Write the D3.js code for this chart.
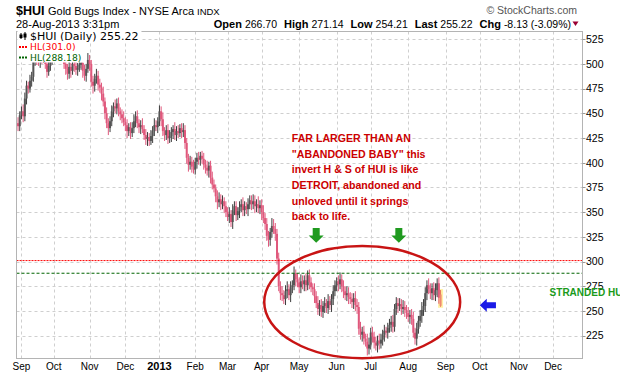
<!DOCTYPE html>
<html>
<head>
<meta charset="utf-8">
<script src="https://cdn.jsdelivr.net/npm/d3@7"></script>
<style>
  body { margin: 0; background: #fff; }
  svg { display: block; font-family: "Liberation Sans", Arial, sans-serif; }
</style>
</head>
<body>
<div id="chart"></div>
<script>
// ---- data ----
const monthLabels = ['Sep', 'Oct', 'Nov', 'Dec', '2013', 'Feb', 'Mar', 'Apr', 'May', 'Jun', 'Jul', 'Aug', 'Sep', 'Oct', 'Nov', 'Dec'];
const monthTradingDays = [19, 21, 21, 20, 21, 19, 20, 22, 22, 20, 22, 22, 20, 23, 20, 21];
const firstBarIndex = -3; // Aug 29 2012, three sessions before Sep 4

// daily closes, Aug 29 2012 .. Aug 28 2013
const closes = [
  440, 437, 448, 452, 447, 465, 478, 475, 483, 487,
  502, 512, 505, 503, 508, 506, 510, 500, 492, 498,
  505, 510, 512, 515, 518, 520, 512, 508, 500, 495,
  490, 497, 493, 500, 498, 494, 496, 499, 501, 493,
  488, 495, 504, 500, 482, 478, 485, 488, 479, 476,
  470, 462, 450, 440, 435, 442, 452, 457, 455, 460,
  452, 449, 445, 441, 438, 432, 436, 430, 435, 442,
  447, 440, 436, 438, 434, 428, 424, 426, 422, 427,
  432, 438, 436, 442, 452, 444, 432, 428, 433, 425,
  427, 431, 434, 428, 432, 430, 435, 431, 433, 420,
  405, 398, 401, 396, 393, 401, 405, 403, 407, 404,
  398, 395, 392, 397, 385, 378, 374, 366, 360, 363,
  358, 361, 356, 350, 345, 348, 340, 352, 356, 347,
  351, 355, 358, 352, 356, 353, 358, 362, 358, 361,
  356, 358, 354, 357, 350, 344, 338, 326, 322, 330,
  336, 333, 328, 303, 275, 268, 266, 262, 270, 272,
  266, 274, 276, 288, 282, 279, 274, 280, 277, 281,
  276, 286, 279, 274, 272, 265, 258, 252, 256, 249,
  255, 258, 253, 260, 256, 262, 270, 276, 280, 277,
  282, 275, 270, 266, 268, 264, 262, 259, 263, 256,
  254, 232, 226, 229, 222, 219, 212, 216, 228, 224,
  218, 215, 220, 217, 221, 226, 230, 228, 233, 236,
  239, 234, 252, 258, 255, 257, 252, 254, 251, 248,
  244, 246, 242, 228, 222, 232, 240, 245, 251, 255,
  268, 276, 272, 268, 273, 266, 271, 278, 263.35, 255.22
];
// how far each day's high / low reached beyond its candle body
const wickUp = [
  5, 6, 4, 5, 7, 6, 5, 4, 6, 5,  7, 6, 5, 8, 6, 5, 7, 4, 6, 5,
  6, 8, 5, 7, 5, 6, 6, 5, 8, 7,  5, 6, 4, 7, 5, 6, 5, 7, 6, 4,
  6, 5, 7, 5, 4, 6, 5, 7, 5, 6,  5, 7, 4, 6, 5, 5, 6, 4, 7, 5,
  6, 4, 5, 7, 5, 6, 4, 5, 6, 7,  5, 6, 4, 5, 7, 4, 6, 5, 4, 6,
  5, 7, 5, 4, 6, 5, 7, 4, 5, 6,  6, 5, 4, 7, 5, 6, 4, 5, 7, 5,
  5, 4, 6, 5, 7, 4, 5, 6, 4, 5,  6, 5, 7, 4, 5, 6, 5, 4, 6, 7,
  5, 6, 4, 5, 5, 7, 4, 6, 5, 5,  4, 6, 5, 7, 5, 4, 6, 5, 5, 7,
  6, 5, 8, 5, 6, 7, 5, 6, 5, 4,  8, 7, 6, 5, 6, 5, 7, 5, 6, 8,
  5, 6, 5, 7, 4, 6, 5, 7, 6, 5,  7, 5, 6, 5, 4, 6, 5, 7, 5, 6,
  5, 6, 4, 7, 5, 5, 6, 5, 4, 6,  7, 5, 6, 5, 7, 6, 5, 6, 5, 7,
  6, 5, 7, 5, 6, 5, 8, 7, 5, 6,  5, 6, 5, 7, 6, 5, 6, 4, 5, 6,
  6, 7, 5, 6, 5, 6, 5, 7, 6, 5,  6, 5, 6, 7, 5, 6, 5, 6, 8, 7,
  6, 5, 7, 6, 5, 6, 7, 5, 6, 0
];
const wickDown = [
  6, 5, 5, 4, 6, 5, 6, 5, 4, 6,  5, 4, 6, 5, 7, 6, 5, 5, 6, 4,
  5, 6, 7, 5, 6, 4, 5, 6, 5, 6,  6, 5, 7, 4, 6, 5, 6, 4, 5, 7,
  5, 6, 4, 7, 5, 8, 6, 5, 6, 5,  7, 5, 6, 5, 7, 4, 5, 6, 5, 6,
  5, 6, 5, 4, 6, 7, 5, 6, 4, 5,  6, 5, 6, 7, 4, 5, 6, 7, 5, 4,
  7, 5, 4, 6, 5, 7, 5, 6, 5, 6,  5, 6, 7, 5, 6, 5, 4, 6, 5, 6,
  6, 7, 5, 6, 4, 5, 7, 5, 6, 5,  5, 6, 5, 7, 6, 5, 4, 6, 7, 5,
  6, 5, 7, 5, 4, 6, 5, 7, 5, 6,  5, 7, 5, 6, 6, 5, 7, 5, 6, 5,
  7, 6, 5, 6, 8, 5, 6, 5, 7, 6,  6, 5, 7, 6, 5, 7, 6, 5, 6, 7,
  5, 7, 6, 5, 7, 5, 6, 6, 5, 7,  6, 5, 7, 5, 6, 7, 5, 6, 7, 5,
  6, 7, 5, 6, 5, 7, 6, 5, 6, 7,  5, 6, 7, 5, 6, 7, 5, 6, 7, 6,
  7, 6, 5, 7, 6, 5, 7, 6, 5, 6,  6, 5, 7, 6, 5, 6, 7, 5, 6, 5,
  7, 6, 5, 6, 7, 5, 6, 5, 7, 6,  5, 7, 6, 5, 6, 7, 5, 6, 7, 6,
  6, 7, 5, 6, 7, 5, 6, 7, 6, 0
];
const lastBar = { open: 266.70, high: 271.14, low: 254.21, close: 255.22, chg: -8.13, chgPct: -3.09 };
const quoteTime = '28-Aug-2013 3:31pm';

const yTicks = [225, 250, 275, 300, 325, 350, 375, 400, 425, 450, 475, 500, 525];
const hlLevels = [
  { value: 301.0, label: 'HL(301.0)', color: '#ff0000', dash: '2,1' },
  { value: 288.18, label: 'HL(288.18)', color: '#006400', dash: '3,2' }
];

// annotations (data space: trading-day index / index value)
const noteLines = [
  'FAR LARGER THAN AN',
  '"ABANDONED BABY" this',
  'invert H & S of HUI is like',
  'DETROIT, abandoned and',
  'unloved until it springs',
  'back to life.'
];
const noteAnchor = { index: 158.7, value: 421 };
const ellipseNote = { index: 200, value: 259, halfDays: 57.5, halfValue: 56.8 };
const greenArrowIndexes = [173, 221.5];
const greenArrowValues = { top: 334, tip: 319 };
const blueArrow = { tipIndex: 269, tailIndex: 278.5, value: 255.8 };
const strandedNote = { index: 310, value: 265.5, text: 'STRANDED HUI' };

// ---- setup ----
const W = 620, H = 376;
const plot = { left: 16.5, right: 582.5, top: 31.5, bottom: 358.5 };

const svg = d3.select('#chart').append('svg')
  .attr('width', W).attr('height', H);

const x = d3.scaleLinear().domain([-2.9, 329.3]).range([plot.left, plot.right]);
const y = d3.scaleLinear().domain([201.9, 532.8]).range([plot.bottom, plot.top]);

// ---- header ----
svg.append('text').attr('x', 16).attr('y', 15)
  .attr('font-size', 12.5).attr('font-weight', 'bold').text('$HUI');
svg.append('text').attr('x', 48).attr('y', 15)
  .attr('font-size', 11).text('Gold Bugs Index - NYSE Arca');
svg.append('text').attr('x', 197).attr('y', 15)
  .attr('font-size', 9.5).text('INDX');
svg.append('text').attr('x', 16).attr('y', 27.5)
  .attr('font-size', 11).text(quoteTime);
svg.append('text').attr('x', 577).attr('y', 14).attr('text-anchor', 'end')
  .attr('font-size', 10.5).attr('fill', '#555').text('\u00A9 StockCharts.com');

const quoteFields = [
  ['Open', lastBar.open.toFixed(2)],
  ['High', lastBar.high.toFixed(2)],
  ['Low', lastBar.low.toFixed(2)],
  ['Last', lastBar.close.toFixed(2)],
  ['Chg', `${lastBar.chg.toFixed(2)} (${lastBar.chgPct.toFixed(2)}%)`]
];
const quote = svg.append('text').attr('x', 571).attr('y', 27.5)
  .attr('text-anchor', 'end').attr('font-size', 11);
quoteFields.forEach(([label, val], i) => {
  quote.append('tspan').attr('dx', i ? 7 : 0).attr('font-weight', 'bold').text(label);
  quote.append('tspan').attr('dx', 3).attr('font-size', 10.5).text(val);
});
svg.append('path')
  .attr('d', 'M572.5,21.5 L578.5,21.5 L575.5,26 Z')
  .attr('fill', '#990033');

// ---- grid + frame ----
const monthStarts = d3.cumsum([0].concat(monthTradingDays.slice(0, -1)));

svg.append('g').selectAll('line').data(monthStarts).join('line')
  .attr('x1', d => Math.round(x(d)) + 0.5).attr('x2', d => Math.round(x(d)) + 0.5)
  .attr('y1', plot.top).attr('y2', plot.bottom)
  .attr('stroke', '#cfcfcf').attr('stroke-dasharray', '3,3');

svg.append('g').selectAll('line').data(yTicks).join('line')
  .attr('x1', plot.left).attr('x2', plot.right)
  .attr('y1', d => Math.round(y(d)) + 0.5).attr('y2', d => Math.round(y(d)) + 0.5)
  .attr('stroke', '#cfcfcf').attr('stroke-dasharray', '3,3');

// ---- candles ----
svg.append('clipPath').attr('id', 'plotClip').append('rect')
  .attr('x', plot.left).attr('y', plot.top)
  .attr('width', plot.right - plot.left).attr('height', plot.bottom - plot.top);

const bars = closes.map((c, i) => {
  const isLast = i === closes.length - 1;
  const prev = i > 0 ? closes[i - 1] : c;
  const open = isLast ? lastBar.open : prev;
  const high = isLast ? lastBar.high : Math.max(open, c) + wickUp[i];
  const low = isLast ? lastBar.low : Math.min(open, c) - wickDown[i];
  return { idx: firstBarIndex + i, open, high, low, close: c, up: c >= prev, isLast };
});

const candles = svg.append('g').attr('clip-path', 'url(#plotClip)');

// yellow highlight behind the latest bar
const lb = bars[bars.length - 1];
candles.append('rect')
  .attr('x', x(lb.idx) - 2.5).attr('width', 5)
  .attr('y', y(lb.high) - 1).attr('height', y(lb.low) - y(lb.high) + 2)
  .attr('fill', '#fff1a6');

candles.selectAll('line.wick').data(bars).join('line')
  .attr('class', 'wick')
  .attr('x1', d => x(d.idx)).attr('x2', d => x(d.idx))
  .attr('y1', d => y(d.high)).attr('y2', d => y(d.low))
  .attr('stroke', d => d.isLast ? '#e8735a' : d.up ? '#3c3c3c' : '#e0587c')
  .attr('stroke-width', 1);

candles.selectAll('rect.body').data(bars).join('rect')
  .attr('class', 'body')
  .attr('x', d => x(d.idx) - 1).attr('width', 2)
  .attr('y', d => y(Math.max(d.open, d.close)))
  .attr('height', d => Math.max(1.5, Math.abs(y(d.open) - y(d.close))))
  .attr('fill', d => d.isLast ? '#ef8a70' : d.up ? '#555' : '#e0587c');

// ---- HL levels ----
svg.append('g').selectAll('line').data(hlLevels).join('line')
  .attr('x1', plot.left).attr('x2', plot.right)
  .attr('y1', d => y(d.value)).attr('y2', d => y(d.value))
  .attr('stroke', d => d.color).attr('stroke-dasharray', d => d.dash);

// frame
svg.append('rect')
  .attr('x', plot.left).attr('y', plot.top)
  .attr('width', plot.right - plot.left).attr('height', plot.bottom - plot.top)
  .attr('fill', 'none').attr('stroke', '#b4b4b4');

// ---- axes labels ----
const yAxis = svg.append('g');
yAxis.selectAll('line').data(yTicks).join('line')
  .attr('x1', plot.right).attr('x2', plot.right + 3)
  .attr('y1', d => Math.round(y(d)) + 0.5).attr('y2', d => Math.round(y(d)) + 0.5)
  .attr('stroke', '#999');
yAxis.selectAll('text').data(yTicks).join('text')
  .attr('x', plot.right + 3.5).attr('y', d => y(d) + 3.8)
  .attr('font-size', 10.5).text(d => d);

svg.append('g').selectAll('text').data(monthLabels).join('text')
  .attr('x', (d, i) => x(monthStarts[i])).attr('y', 370)
  .attr('text-anchor', 'middle')
  .attr('font-size', d => d === '2013' ? 11 : 10)
  .attr('font-weight', d => d === '2013' ? 'bold' : 'normal')
  .text(d => d);

// ---- legend ----
const legend = svg.append('g').attr('font-family', '"DejaVu Sans", Verdana, sans-serif');
const legendRows = [
  { text: `$HUI (Daily) ${lastBar.close.toFixed(2)}`, color: '#000', yb: 39.5, size: 11 },
  { text: hlLevels[0].label, color: hlLevels[0].color, yb: 50, size: 9.2 },
  { text: hlLevels[1].label, color: hlLevels[1].color, yb: 60.5, size: 9.2 }
];
legendRows.forEach((r, i) => {
  const bg = legend.append('rect').attr('fill', '#fff');
  const t = legend.append('text').attr('x', 30).attr('y', r.yb)
    .attr('font-size', r.size).attr('fill', r.color).text(r.text);
  const w = t.node().getComputedTextLength();
  bg.attr('x', plot.left + 1).attr('y', r.yb - 9).attr('width', 30 + w + 2 - plot.left).attr('height', 11);
  if (i > 0) {
    legend.append('line').attr('x1', 19).attr('x2', 28)
      .attr('y1', r.yb - 3).attr('y2', r.yb - 3)
      .attr('stroke', r.color).attr('stroke-width', 2).attr('stroke-dasharray', '2,1');
  }
});
// tiny candle glyph
[[21, 33, 39, 34.5, 38], [25, 32, 40, 33.5, 37.5]].forEach(([cx, t, b, bt, bb]) => {
  legend.append('line').attr('x1', cx).attr('x2', cx).attr('y1', t).attr('y2', b).attr('stroke', '#000');
  legend.append('rect').attr('x', cx - 1.5).attr('y', bt).attr('width', 3).attr('height', bb - bt).attr('fill', '#000');
});

// ---- annotations ----
svg.append('ellipse')
  .attr('cx', x(ellipseNote.index)).attr('cy', y(ellipseNote.value))
  .attr('rx', x(ellipseNote.index + ellipseNote.halfDays) - x(ellipseNote.index))
  .attr('ry', y(ellipseNote.value) - y(ellipseNote.value + ellipseNote.halfValue))
  .attr('fill', 'none').attr('stroke', '#c81414').attr('stroke-width', 2.5);

const note = svg.append('text')
  .attr('font-size', 10.6).attr('font-weight', 'bold').attr('fill', '#cc0000');
noteLines.forEach((line, i) => {
  note.append('tspan').attr('x', x(noteAnchor.index))
    .attr('y', y(noteAnchor.value) + i * 15.7).text(line);
});

greenArrowIndexes.forEach(idx => {
  const cx = x(idx), t = y(greenArrowValues.top), tip = y(greenArrowValues.tip);
  const neck = t + 7.5;
  svg.append('path')
    .attr('d', `M${cx - 3.5},${t} L${cx + 3.5},${t} L${cx + 3.5},${neck} L${cx + 7.5},${neck} L${cx},${tip} L${cx - 7.5},${neck} L${cx - 3.5},${neck} Z`)
    .attr('fill', '#1f9a1f');
});

{
  const tipX = x(blueArrow.tipIndex), tailX = x(blueArrow.tailIndex), cy = y(blueArrow.value);
  const neck = tipX + 7;
  svg.append('path')
    .attr('d', `M${tipX},${cy} L${neck},${cy - 6.5} L${neck},${cy - 3} L${tailX},${cy - 3} L${tailX},${cy + 3} L${neck},${cy + 3} L${neck},${cy + 6.5} Z`)
    .attr('fill', '#1a1ae6');
}

svg.append('text')
  .attr('x', x(strandedNote.index)).attr('y', y(strandedNote.value))
  .attr('font-size', 10).attr('font-weight', 'bold').attr('fill', '#1a9a1a')
  .text(strandedNote.text);
</script>
</body>
</html>
